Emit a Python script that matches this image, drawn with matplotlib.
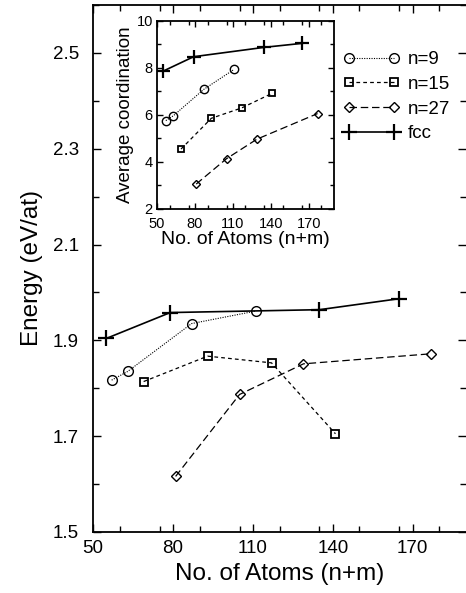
#!/usr/bin/env python
"""
Binding energy and average coordination vs. cluster size (n+m)
"""

import matplotlib
matplotlib.use('Agg')
import matplotlib.pyplot as plt
from matplotlib.ticker import MultipleLocator

plt.rcParams['font.family'] = ['Liberation Sans', 'DejaVu Sans']

# Cluster sizes (n+m) for each series
x_n9 = [57, 63, 87, 111]
x_n15 = [69, 93, 117, 141]
x_n27 = [81, 105, 129, 177]
x_fcc = [55, 79, 135, 165]

# Energy (eV/at)
e_n9 = [1.817, 1.835, 1.935, 1.961]
e_n15 = [1.814, 1.867, 1.853, 1.705]
e_n27 = [1.616, 1.787, 1.851, 1.872]
e_fcc = [1.904, 1.958, 1.964, 1.987]

# Average coordination (inset)
c_n9 = [5.76, 5.97, 7.09, 7.94]
c_n15 = [4.55, 5.86, 6.30, 6.92]
c_n27 = [3.06, 4.14, 4.97, 6.06]
c_fcc = [7.87, 8.48, 8.88, 9.05]

labels = ['n=9', 'n=15', 'n=27', 'fcc']

fig = plt.figure(figsize=(4.66, 5.93), dpi=100)
ax = fig.add_axes([0.1996, 0.1029, 0.8004, 0.8887])

dotted = (0, (1, 1.2))
short_dash = (0, (3, 2.5))
long_dash = (0, (6, 3))

ax.plot(x_n9, e_n9, color='black', lw=0.8, ls=dotted, marker='o',
        ms=7, mfc='none', mec='black', mew=1.0, label=labels[0])
ax.plot(x_n15, e_n15, color='black', lw=0.9, ls=short_dash, marker='s',
        ms=5.5, mfc='none', mec='black', mew=1.3, label=labels[1])
ax.plot(x_n27, e_n27, color='black', lw=0.9, ls=long_dash, marker='D',
        ms=5, mfc='none', mec='black', mew=1.0, label=labels[2])
ax.plot(x_fcc, e_fcc, color='black', lw=1.2, ls='-', marker='+',
        ms=11, mec='black', mew=1.6, label=labels[3])

ax.set_xlim(50, 190)
ax.set_ylim(1.5, 2.6)
ax.set_xticks([50, 80, 110, 140, 170])
ax.set_yticks([1.5, 1.7, 1.9, 2.1, 2.3, 2.5])
ax.xaxis.set_minor_locator(MultipleLocator(15))
ax.yaxis.set_minor_locator(MultipleLocator(0.1))
ax.tick_params(which='both', direction='in', top=True, right=True,
               labelsize=13.5, width=1.0)
ax.tick_params(axis='x', pad=6)
ax.tick_params(axis='y', pad=10)
ax.tick_params(which='major', length=6)
ax.tick_params(which='minor', length=4)
ax.spines['right'].set_visible(False)
for s in ['left', 'bottom', 'top']:
    ax.spines[s].set_linewidth(1.3)
ax.set_xlabel('No. of Atoms (n+m)', fontsize=17.5, labelpad=4)
ax.set_ylabel('Energy (eV/at)', fontsize=17.5, labelpad=7)

ax.legend(loc='upper left', bbox_to_anchor=(0.645, 0.93), frameon=False,
          fontsize=13.5, numpoints=2, handlelength=3.0, handletextpad=0.45,
          labelspacing=0.4, borderpad=0)

# Inset: average coordination
ins = fig.add_axes([0.3369, 0.6476, 0.3798, 0.3170])
ins.plot(x_n9, c_n9, color='black', lw=0.8, ls=dotted, marker='o',
         ms=6, mfc='none', mec='black', mew=1.0)
ins.plot(x_n15, c_n15, color='black', lw=0.9, ls=short_dash, marker='s',
         ms=5, mfc='none', mec='black', mew=1.3)
ins.plot(x_n27, c_n27, color='black', lw=0.9, ls=long_dash, marker='D',
         ms=4.5, mfc='none', mec='black', mew=1.0)
ins.plot(x_fcc, c_fcc, color='black', lw=1.2, ls='-', marker='+',
         ms=10, mec='black', mew=1.6)

ins.set_xlim(50, 190)
ins.set_ylim(2, 10)
ins.set_xticks([50, 80, 110, 140, 170])
ins.xaxis.set_minor_locator(MultipleLocator(15))
ins.set_yticks([2, 4, 6, 8, 10])
ins.yaxis.set_minor_locator(MultipleLocator(1))
ins.tick_params(which='both', direction='in', top=True, right=True,
                labelsize=10.5, width=1.0)
ins.tick_params(axis='x', pad=6)
ins.tick_params(axis='y', pad=3)
ins.tick_params(which='major', length=4)
ins.tick_params(which='minor', length=3)
for s in ins.spines.values():
    s.set_linewidth(1.3)
ins.set_xlabel('No. of Atoms (n+m)', fontsize=14, labelpad=0)
ins.set_ylabel('Average coordination', fontsize=13.5, labelpad=2)

fig.savefig('out.png', dpi=100)
